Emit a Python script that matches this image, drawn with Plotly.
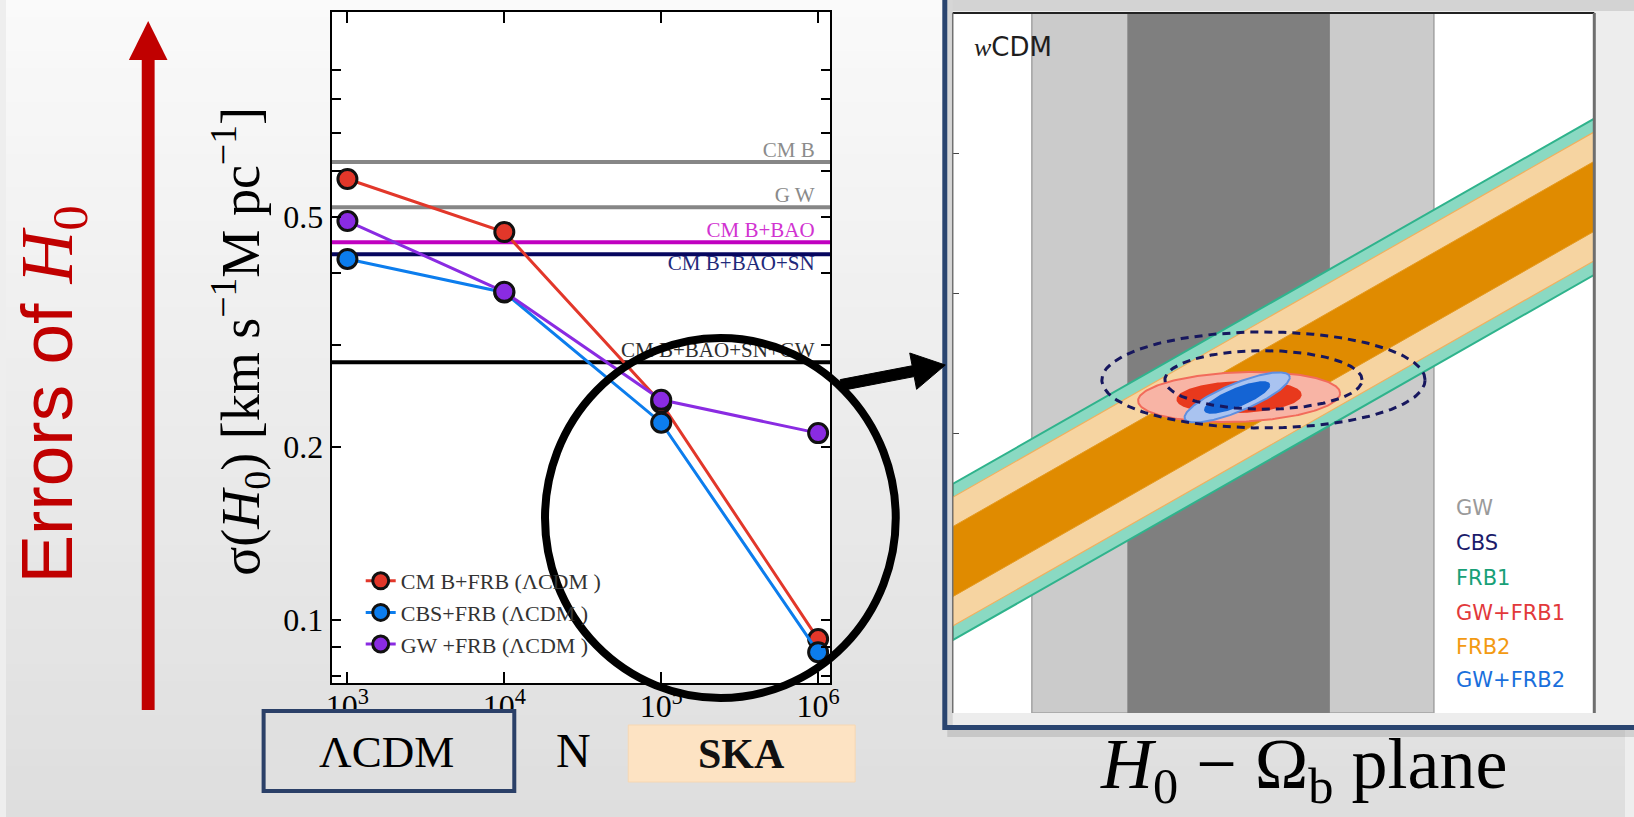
import numpy as np
import plotly.graph_objects as go

W, H = 1634, 817


def px(x):
    return x / W


def py(y):
    return 1 - y / H


# ---------------- left panel: sigma(H0) versus number of FRBs ----------------
N_FRB = [1e3, 1e4, 1e5, 1e6]
SIGMA_CMB_FRB = [0.582, 0.471, 0.238, 0.0927]
SIGMA_CBS_FRB = [0.423, 0.370, 0.220, 0.0880]
SIGMA_GW_FRB = [0.492, 0.371, 0.241, 0.211]
SERIES_NAMES = ["CM B+FRB (ΛCDM )", "CBS+FRB (ΛCDM )", "GW +FRB (ΛCDM )"]
SERIES_COLORS = ["#e2372a", "#0c7ded", "#8a2be2"]

# reference constraints drawn as horizontal lines
REF_NAMES = ["CM B", "G W", "CM B+BAO", "CM B+BAO+SN", "CM B+BAO+SN+GW"]
REF_SIGMA = [0.623, 0.520, 0.452, 0.431, 0.280]
REF_LINE_COLORS = ["#868686", "#868686", "#c000c0", "#06065e", "#000000"]
REF_TEXT_COLORS = ["#8c8c8c", "#8a8a8a", "#d133d1", "#1f2a7a", "#2e2e2e"]
REF_LABEL_SIDE = ["top", "top", "top", "bottom", "top"]

X_TICKS = [1e3, 1e4, 1e5, 1e6]
X_TICK_TEXT = ["10<sup>3</sup>", "10<sup>4</sup>", "10<sup>5</sup>", "10<sup>6</sup>"]
Y_TICKS = [0.08, 0.09, 0.1, 0.2, 0.3, 0.4, 0.5, 0.6, 0.7, 0.8, 0.9]
Y_TICK_TEXT = ["", "", "0.1", "0.2", "", "", "0.5", "", "", "", ""]
X_RANGE_LOG = [2.899, 6.078]
Y_RANGE_LOG = [-1.109, 0.0545]

# ---------------- right panel: H0 - Omega_b plane (wCDM) ----------------
H0_RANGE = [55.0, 85.0]
OMB_RANGE = [0.03, 0.08]
OMB_TICKS = [0.05, 0.06, 0.07]
GW_1SIGMA = [63.2, 72.6]
GW_2SIGMA = [58.7, 77.5]
FRB_PIVOT_H0 = 70.0
FRB_SLOPE = 0.00087
FRB1_CENTER, FRB1_HALF = 0.05383, 0.00558
FRB2_CENTER, FRB2_HALF_1S, FRB2_HALF_2S = 0.05386, 0.0025, 0.0046

# Gaussian posteriors: mean H0, mean Omega_b, sigma H0, sigma Omega_b, correlation
CBS_POST = [69.53, 0.05379, 3.04, 0.00138, 0.0]
GW_FRB1_POST = [68.39, 0.05257, 1.90, 0.00072, 0.15]
GW_FRB2_POST = [68.30, 0.05254, 0.99, 0.00072, 0.80]
DCHI2_LEVELS = [2.30, 6.18]

PANEL_LABELS = ["GW", "CBS", "FRB1", "GW+FRB1", "FRB2", "GW+FRB2"]
PANEL_LABEL_COLORS = ["#9a9a9a", "#1b1b6b", "#18a077", "#e2393b", "#f39a12", "#1a6fdc"]

SERIF = "Liberation Serif"
SANS = "DejaVu Sans"


def bg_rgb(y):
    t = min(max(y / H, 0.0), 1.0)
    v = int(round(250 - 28 * t))
    return f"rgb({v},{v},{v})"


def contour(post, dchi2, n=240):
    mx, my, sx, sy, rho = post
    s = np.sqrt(dchi2)
    t = np.linspace(0, 2 * np.pi, n)
    x = mx + s * sx * np.cos(t)
    y = my + s * sy * (rho * np.cos(t) + np.sqrt(1 - rho ** 2) * np.sin(t))
    return x, y


def frb_band(center, half):
    h = np.array(H0_RANGE)
    mid = center + FRB_SLOPE * (h - FRB_PIVOT_H0)
    lo, hi = mid - half, mid + half
    return [h[0], h[1], h[1], h[0], h[0]], [lo[0], lo[1], hi[1], hi[0], lo[0]]


fig = go.Figure()

# ---- data series ----
for name, ys, col in zip(SERIES_NAMES, [SIGMA_CMB_FRB, SIGMA_CBS_FRB, SIGMA_GW_FRB], SERIES_COLORS):
    fig.add_trace(go.Scatter(
        x=N_FRB, y=ys, name=name, mode="lines+markers",
        line=dict(color=col, width=3),
        marker=dict(size=19, color=col, line=dict(color="#111111", width=3)),
        xaxis="x", yaxis="y",
    ))

# ---- labels of the reference lines ----
label_x = 10 ** (X_RANGE_LOG[1] - 0.1)
for name, val, col, side in zip(REF_NAMES, REF_SIGMA, REF_TEXT_COLORS, REF_LABEL_SIDE):
    fig.add_trace(go.Scatter(
        x=[label_x], y=[val], mode="text", text=[name],
        textposition=f"{side} left", showlegend=False, hoverinfo="skip",
        textfont=dict(family=SERIF, size=21, color=col),
        xaxis="x", yaxis="y",
    ))

# ---- right panel: GW bands ----
for (lo, hi), fillc, linec in [(GW_2SIGMA, "#cbcbcb", "#a2a2a2"), (GW_1SIGMA, "#7f7f7f", "#7f7f7f")]:
    fig.add_trace(go.Scatter(
        x=[lo, hi, hi, lo, lo],
        y=[OMB_RANGE[0], OMB_RANGE[0], OMB_RANGE[1], OMB_RANGE[1], OMB_RANGE[0]],
        fill="toself", fillcolor=fillc, mode="lines", line=dict(color=linec, width=1.5),
        showlegend=False, hoverinfo="skip", xaxis="x2", yaxis="y2",
    ))

# ---- FRB degeneracy bands ----
for center, half, fillc, linec, lw in [
    (FRB1_CENTER, FRB1_HALF, "#8ad9c2", "#2fb38c", 2.0),
    (FRB2_CENTER, FRB2_HALF_2S, "#f6d4a1", "#f0b060", 1.2),
    (FRB2_CENTER, FRB2_HALF_1S, "#e08b00", "#e59a20", 1.0),
]:
    bx, by = frb_band(center, half)
    fig.add_trace(go.Scatter(
        x=bx, y=by, fill="toself", fillcolor=fillc, mode="lines",
        line=dict(color=linec, width=lw), showlegend=False, hoverinfo="skip",
        xaxis="x2", yaxis="y2",
    ))

# ---- joint posteriors ----
for post, fills, edges in [
    (GW_FRB1_POST, ["#e8391d", "#f8b4a5"], ["#e8391d", "#f26b5b"]),
    (GW_FRB2_POST, ["#1464d4", "#a9c3f0"], ["#1464d4", "#5e8fe0"]),
]:
    for lev, fc, ec in sorted(zip(DCHI2_LEVELS, fills, edges), reverse=True):
        ex, ey = contour(post, lev)
        fig.add_trace(go.Scatter(
            x=ex, y=ey, fill="toself", fillcolor=fc, mode="lines",
            line=dict(color=ec, width=2), showlegend=False, hoverinfo="skip",
            xaxis="x2", yaxis="y2",
        ))

for lev in DCHI2_LEVELS:
    ex, ey = contour(CBS_POST, lev)
    fig.add_trace(go.Scatter(
        x=ex, y=ey, mode="lines", line=dict(color="#17175e", width=3, dash="8px,6px"),
        showlegend=False, hoverinfo="skip", xaxis="x2", yaxis="y2",
    ))

# ---------------- decorations ----------------
shapes = []
# slide background
NSTRIPE = 48
for i in range(NSTRIPE):
    y0 = i * H / NSTRIPE
    y1 = (i + 1) * H / NSTRIPE
    shapes.append(dict(type="rect", xref="paper", yref="paper", layer="below",
                       x0=0, x1=1, y0=py(y0), y1=py(y1) - 0.001,
                       fillcolor=bg_rgb((y0 + y1) / 2), line=dict(width=0)))
# framed picture of the H0-Omega_b plane
shapes.append(dict(type="rect", xref="paper", yref="paper", layer="below",
                   x0=px(950), x1=1.01, y0=py(725), y1=py(-5),
                   fillcolor="#ededed", line=dict(width=0)))
shapes.append(dict(type="rect", xref="paper", yref="paper", layer="below",
                   x0=px(950), x1=1.01, y0=py(11), y1=py(-5),
                   fillcolor="#d3d3d3", line=dict(width=0)))
shapes.append(dict(type="rect", xref="paper", yref="paper", layer="below",
                   x0=px(950), x1=px(955.5), y0=py(725), y1=py(0),
                   fillcolor="#d6d6d6", line=dict(width=0)))
shapes.append(dict(type="rect", xref="paper", yref="paper", layer="below",
                   x0=px(950), x1=1.01, y0=py(737), y1=py(730),
                   fillcolor="rgba(110,110,110,0.22)", line=dict(width=0)))
shapes.append(dict(type="rect", xref="paper", yref="paper", layer="below",
                   x0=px(947.5), x1=1.05, y0=py(727.5), y1=py(-20),
                   fillcolor="rgba(0,0,0,0)", line=dict(color="#2a4570", width=5)))
# plot area backgrounds
shapes.append(dict(type="rect", xref="x domain", yref="y domain", layer="below",
                   x0=0, x1=1, y0=0, y1=1, fillcolor="white", line=dict(width=0)))
shapes.append(dict(type="rect", xref="x2 domain", yref="y2 domain", layer="below",
                   x0=0, x1=1, y0=0, y1=1, fillcolor="white", line=dict(width=0)))

# horizontal reference lines
for val, col in zip(REF_SIGMA, REF_LINE_COLORS):
    shapes.append(dict(type="line", xref="x domain", yref="y", layer="below",
                       x0=0, x1=1, y0=val, y1=val, line=dict(color=col, width=4)))

# frame of the right plot
shapes.append(dict(type="line", xref="x2 domain", yref="y2 domain", x0=0, x1=1, y0=1, y1=1,
                   line=dict(color="#222222", width=2)))
shapes.append(dict(type="line", xref="x2 domain", yref="y2 domain", x0=0, x1=0, y0=0, y1=1,
                   line=dict(color="#707070", width=1.5)))
shapes.append(dict(type="line", xref="x2 domain", yref="y2 domain", x0=1, x1=1, y0=0, y1=1,
                   line=dict(color="#6e6e6e", width=3)))

# ΛCDM / SKA boxes under the N axis
shapes.append(dict(type="rect", xref="paper", yref="paper", layer="above",
                   x0=px(260), x1=px(513), y0=py(791), y1=py(711),
                   fillcolor=bg_rgb(751), line=dict(color="#2b4068", width=4)))
shapes.append(dict(type="rect", xref="paper", yref="paper", layer="above",
                   x0=px(628), x1=px(857), y0=py(782), y1=py(725),
                   fillcolor="#fde3c3", line=dict(color="#f6d7b3", width=1)))

# zoom circle and pointer arrow
shapes.append(dict(type="circle", xref="paper", yref="paper", layer="above",
                   x0=px(544), x1=px(898), y0=py(698), y1=py(338),
                   line=dict(color="black", width=8)))
tail = np.array([843.0, 385.0])
tip = np.array([948.0, 365.0])
u = (tip - tail) / np.linalg.norm(tip - tail)
nrm = np.array([-u[1], u[0]])
base = tip - 33 * u
pts = [tail - 5.5 * nrm, base - 5.5 * nrm, base - 18.5 * nrm, tip,
       base + 18.5 * nrm, base + 5.5 * nrm, tail + 5.5 * nrm]
path = "M " + " L ".join(f"{px(p[0]):.5f},{py(p[1]):.5f}" for p in pts) + " Z"
shapes.append(dict(type="path", xref="paper", yref="paper", layer="above", path=path,
                   fillcolor="black", line=dict(color="black", width=1)))

# red "errors" arrow
shapes.append(dict(type="rect", xref="paper", yref="paper", layer="above",
                   x0=px(137), x1=px(150), y0=py(710), y1=py(58),
                   fillcolor="#c00000", line=dict(width=0)))
shapes.append(dict(type="path", xref="paper", yref="paper", layer="above",
                   path=f"M {px(124)},{py(60)} L {px(163)},{py(60)} L {px(143.5)},{py(21)} Z",
                   fillcolor="#c00000", line=dict(width=0)))


def note(text, x, y, size, family, color="black", xanchor="center", angle=0):
    return dict(text=text, x=px(x), y=py(y), xref="paper", yref="paper", showarrow=False,
                xanchor=xanchor, yanchor="middle", textangle=angle,
                font=dict(family=family, size=size, color=color))


annotations = [
    note('Errors of <span style="font-family:Liberation Serif"><i>H</i><sub>0</sub></span>',
         46, 395, 73, "Liberation Sans", "#c00000", angle=-90),
    note("σ(<i>H</i><sub>0</sub>) [km s<sup>−1</sup>M pc<sup>−1</sup>]",
         236, 341, 54, SERIF, angle=-90),
    note("ΛCDM", 384, 752, 45, SERIF),
    note("N", 573, 750, 48, SERIF),
    note("<b>SKA</b>", 742, 754, 42, SERIF, "#111111"),
    note('<span style="font-family:Liberation Serif"><i>w</i></span>CDM',
         975, 47, 26, SANS, "#1e1e1e", xanchor="left"),
    note("<i>H</i><sub>0</sub> − Ω<sub>b</sub> plane", 1310, 769, 72, SERIF),
]
LABEL_Y = [508, 543, 578, 613, 647, 680]
for txt, col, yy in zip(PANEL_LABELS, PANEL_LABEL_COLORS, LABEL_Y):
    annotations.append(note(txt, 1461, yy, 21, SANS, col, xanchor="left"))

fig.update_layout(
    width=W, height=H, autosize=False,
    margin=dict(l=0, r=0, t=0, b=0),
    paper_bgcolor="#eeeeee", plot_bgcolor="rgba(0,0,0,0)",
    shapes=shapes, annotations=annotations,
    showlegend=True,
    legend=dict(x=px(358), y=py(560), xanchor="left", yanchor="top",
                bgcolor="rgba(0,0,0,0)",
                font=dict(family=SERIF, size=22, color="#333333")),
    xaxis=dict(type="log", range=X_RANGE_LOG, domain=[px(328.6), px(832)],
               tickvals=X_TICKS, ticktext=X_TICK_TEXT, ticks="inside", ticklen=11,
               tickwidth=1.5, tickcolor="black", showline=True, linecolor="black",
               linewidth=2, mirror="ticks", showgrid=False, zeroline=False,
               ticklabelstandoff=-6,
               tickfont=dict(family=SERIF, size=32, color="black"), anchor="y"),
    yaxis=dict(type="log", range=Y_RANGE_LOG, domain=[py(683), py(12)],
               tickvals=Y_TICKS, ticktext=Y_TICK_TEXT, ticks="inside", ticklen=9,
               tickwidth=1.5, tickcolor="black", showline=True, linecolor="black",
               linewidth=2, mirror="ticks", showgrid=False, zeroline=False,
               tickfont=dict(family=SERIF, size=32, color="black"), anchor="x"),
    xaxis2=dict(range=H0_RANGE, domain=[px(955.5), px(1603)], anchor="y2",
                showticklabels=False, ticks="", showline=False, showgrid=False, zeroline=False),
    yaxis2=dict(range=OMB_RANGE, domain=[py(713), py(13)], anchor="x2",
                tickvals=OMB_TICKS, showticklabels=False, ticks="inside", ticklen=6,
                tickcolor="#444444", tickwidth=1.2, showline=False, showgrid=False,
                zeroline=False),
)

fig.write_html("out.html")
